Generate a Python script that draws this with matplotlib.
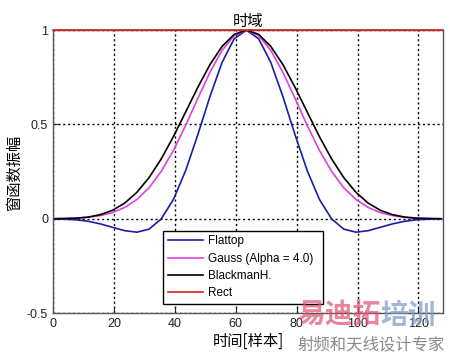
import matplotlib
matplotlib.use("Agg")
import matplotlib.pyplot as plt

plt.rcParams["font.family"] = ["Liberation Sans", "Noto Sans CJK SC", "DejaVu Sans"]

# sample positions (window of 128 samples, centre at 63.5)
x_samples = [-0.5, 3.5, 7.5, 11.5, 15.5, 19.5, 23.5, 27.5, 31.5, 35.5, 39.5,
             43.5, 47.5, 51.5, 55.5, 59.5, 63.5, 67.5, 71.5, 75.5, 79.5, 83.5,
             87.5, 91.5, 95.5, 99.5, 103.5, 107.5, 111.5, 115.5, 119.5, 123.5, 127.5]

# half-window values read from the centre outwards (curves are symmetric)
flattop_half = [1.0, 0.955, 0.829, 0.647, 0.444, 0.254, 0.102, -0.001, -0.055,
                -0.071, -0.063, -0.045, -0.027, -0.013, -0.005, -0.002, 0.0]
gauss_half = [1.0, 0.972, 0.893, 0.776, 0.637, 0.494, 0.362, 0.251, 0.164,
              0.102, 0.060, 0.033, 0.017, 0.008, 0.004, 0.002, 0.001]
blackman_half = [1.0, 0.978, 0.914, 0.817, 0.696, 0.565, 0.435, 0.317, 0.218,
                 0.140, 0.083, 0.045, 0.022, 0.009, 0.003, 0.001, 0.0]

flattop = flattop_half[::-1] + flattop_half[1:]
gauss = gauss_half[::-1] + gauss_half[1:]
blackman = blackman_half[::-1] + blackman_half[1:]
rect_x = [0, 128]
rect = [1.0, 1.0]

labels = ["Flattop", "Gauss (Alpha = 4.0)", "BlackmanH.", "Rect"]
colors = ["#1c1ca8", "#e040e0", "#000000", "#d42020"]
cjk = ["Noto Sans CJK SC"]

fig = plt.figure(figsize=(4.5, 3.55), dpi=100)
ax = fig.add_axes([0.118, 0.118, 0.866, 0.797])

ax.plot(x_samples, flattop, color=colors[0], lw=1.2, label=labels[0])
ax.plot(x_samples, gauss, color=colors[1], lw=1.2, label=labels[1])
ax.plot(x_samples, blackman, color=colors[2], lw=1.2, label=labels[2])
ax.plot(rect_x, rect, color=colors[3], lw=1.2, label=labels[3], clip_on=False, zorder=5)

ax.set_xlim(0, 128)
ax.set_ylim(-0.5, 1)
ax.set_xticks([0, 20, 40, 60, 80, 100, 120])
ax.set_yticks([-0.5, 0, 0.5, 1])
ax.set_yticklabels(["-0.5", "0", "0.5", "1"])
ax.tick_params(direction="in", length=4, labelsize=9, colors="#222222",
               top=False, right=False)
ax.grid(True, color="black", linestyle=(0, (1.5, 2.0)), linewidth=1.0)
for s in ax.spines.values():
    s.set_color("#555555")
    s.set_linewidth(1.0)

ax.set_title("时域", fontsize=11, family=cjk, pad=2)
ax.set_xlabel("时间[样本]", fontsize=11, family=cjk, labelpad=2)
ax.set_ylabel("窗函数振幅", fontsize=11, family=cjk, labelpad=3)

# legend box sized to the reference (expand into the given bbox)
leg = ax.legend(loc="lower left", bbox_to_anchor=(0.282, 0.032, 0.41, 0.254),
                mode="expand", fontsize=8.5, handlelength=3.0, borderpad=0.4,
                labelspacing=0.45, handletextpad=0.45, fancybox=False,
                framealpha=1, edgecolor="black", borderaxespad=0)
leg.get_frame().set_linewidth(1.0)

# watermark
fig.text(0.66, 0.11, "易迪拓", fontsize=20, fontweight="bold", color="#e05070",
         alpha=0.7, family=cjk, va="center")
fig.text(0.845, 0.11, "培训", fontsize=20, fontweight="bold", color="#7d98c8",
         alpha=0.7, family=cjk, va="center")
fig.text(0.66, 0.028, "射频和天线设计专家", fontsize=11.8, color="#8a8a8a",
         family=cjk, va="center")

fig.savefig("out.png", dpi=100)
